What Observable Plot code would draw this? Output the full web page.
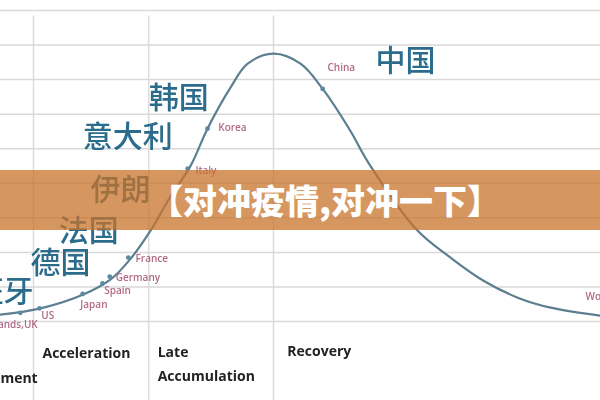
<!DOCTYPE html>
<html>
<head>
<meta charset="utf-8">
<script src="https://cdn.jsdelivr.net/npm/d3@7"></script>
<script src="https://cdn.jsdelivr.net/npm/@observablehq/plot@0.6"></script>
<style>
  html, body { margin: 0; padding: 0; background: #fff; }
  #wrap { position: relative; width: 600px; height: 400px; overflow: hidden; }
  #chart svg { filter: blur(0.5px); display: block; }
  #banner { position: absolute; left: 0; top: 170px; width: 600px; height: 60px;
    background: rgba(200,115,41,0.75); }
  #banner span { position: absolute; left: 149px; top: 0; line-height: 60px;
    color: #fff; font-family: "Noto Sans CJK SC", sans-serif; font-weight: 900;
    font-size: 34px; white-space: nowrap; letter-spacing: 0px; }
</style>
</head>
<body>
<div id="wrap">
  <div id="chart"></div>
  <div id="banner"><span>【对冲疫情,对冲一下】</span></div>
</div>
<script>
// Epidemic curve (time index 0-100, case index)
const curveT = [0, 6.7, 13.8, 18.3, 21.7, 25, 28.3, 31.7, 34.5, 38.3, 41.2, 45.5, 50, 53.7, 58.3, 61.3, 69.5, 75, 80.5, 86.2, 91.7, 100];
const curveV = [0.2, 0.38, 0.78, 1.21, 1.82, 2.63, 3.61, 4.51, 5.58, 6.76, 7.46, 7.75, 7.46, 6.73, 5.52, 4.6, 2.63, 1.85, 1.18, 0.69, 0.4, 0.17];

// Country markers on the curve
const countryT = [34.5, 31.2, 53.7, 21.3, 18.2, 17.0, 13.7, 6.5, 3.3];
const countryV = [5.58, 4.42, 6.73, 1.85, 1.3, 1.1, 0.8, 0.38, 0.25];

// English labels
const enNames = ["China", "Korea", "Italy", "France", "Germany", "Spain", "Japan", "US", "World"];
const enT = [54.5, 36.3, 32.5, 22.5, 19.2, 17.3, 13.3, 6.8, 97.5];
const enV = [7.34, 5.61, 4.36, 1.82, 1.27, 0.9, 0.49, 0.17, 0.72];
const enEndNames = ["Netherlands,UK"];
const enEndT = [6.2];
const enEndV = [-0.09];

// Chinese labels
const zhNames = ["中国", "韩国", "意大利", "伊朗", "法国", "德国"];
const zhT = [62.5, 24.7, 13.7, 15, 9.7, 5];
const zhV = [7.54, 6.47, 5.32, 3.79, 2.6, 1.68];
const zhEndNames = ["西班牙"];
const zhEndT = [5.5];
const zhEndV = [0.84];

// Phases
const phaseNames = ["Acceleration", "Late", "Accumulation", "Recovery"];
const phaseT = [7, 26.2, 26.2, 47.8];
const phaseV = [-0.92, -0.89, -1.59, -0.87];
const phaseEndNames = ["Containment"];
const phaseEndT = [6.2];
const phaseEndV = [-1.65];
const phaseDividers = [5.5, 24.7, 45.5];
const gridV = [0, 1, 2, 3, 4, 5, 6, 7, 8, 9];

const curve = curveT.map((t, i) => ({t, v: curveV[i]}));
const countries = countryT.map((t, i) => ({t, v: countryV[i]}));
const en = enNames.map((n, i) => ({n, t: enT[i], v: enV[i]}));
const enEnd = enEndNames.map((n, i) => ({n, t: enEndT[i], v: enEndV[i]}));
const zh = zhNames.map((n, i) => ({n, t: zhT[i], v: zhV[i]}));
const zhEnd = zhEndNames.map((n, i) => ({n, t: zhEndT[i], v: zhEndV[i]}));
const phases = phaseNames.map((n, i) => ({n, t: phaseT[i], v: phaseV[i]}));
const phasesEnd = phaseEndNames.map((n, i) => ({n, t: phaseEndT[i], v: phaseEndV[i]}));

const chart = Plot.plot({
  width: 600,
  height: 400,
  marginTop: 10,
  marginBottom: 79,
  marginLeft: 0,
  marginRight: 0,
  x: {domain: [0, 100], axis: null},
  y: {domain: [0, 9], axis: null},
  style: {background: "#fff"},
  marks: [
    Plot.ruleY(gridV, {stroke: "#d9d9d9", strokeWidth: 1.5}),
    Plot.ruleX(phaseDividers, {y1: -2.4, y2: 8.84, stroke: "#dcdcdc", strokeWidth: 1.5}),
    Plot.line(curve, {x: "t", y: "v", curve: "catmull-rom", stroke: "#5b7f90", strokeWidth: 2.2}),
    Plot.dot(countries, {x: "t", y: "v", r: 2.4, fill: "#5a8aa3"}),
    Plot.text(en, {x: "t", y: "v", text: "n", textAnchor: "start", fill: "#b06a86", fontSize: 10, fontWeight: 600, fontFamily: "Open Sans, sans-serif"}),
    Plot.text(enEnd, {x: "t", y: "v", text: "n", textAnchor: "end", fill: "#b06a86", fontSize: 10, fontWeight: 600, fontFamily: "Open Sans, sans-serif"}),
    Plot.text(zh, {x: "t", y: "v", text: "n", textAnchor: "start", fill: "#2b6c8c", fontSize: 30, fontWeight: 500, fontFamily: "Noto Sans CJK SC, sans-serif"}),
    Plot.text(zhEnd, {x: "t", y: "v", text: "n", textAnchor: "end", fill: "#2b6c8c", fontSize: 30, fontWeight: 500, fontFamily: "Noto Sans CJK SC, sans-serif"}),
    Plot.text(phases, {x: "t", y: "v", text: "n", textAnchor: "start", fill: "#222", fontSize: 14, fontWeight: "bold", fontFamily: "Open Sans, sans-serif"}),
    Plot.text(phasesEnd, {x: "t", y: "v", text: "n", textAnchor: "end", fill: "#222", fontSize: 14, fontWeight: "bold", fontFamily: "Open Sans, sans-serif"})
  ]
});
document.getElementById("chart").appendChild(chart);
</script>
</body>
</html>
